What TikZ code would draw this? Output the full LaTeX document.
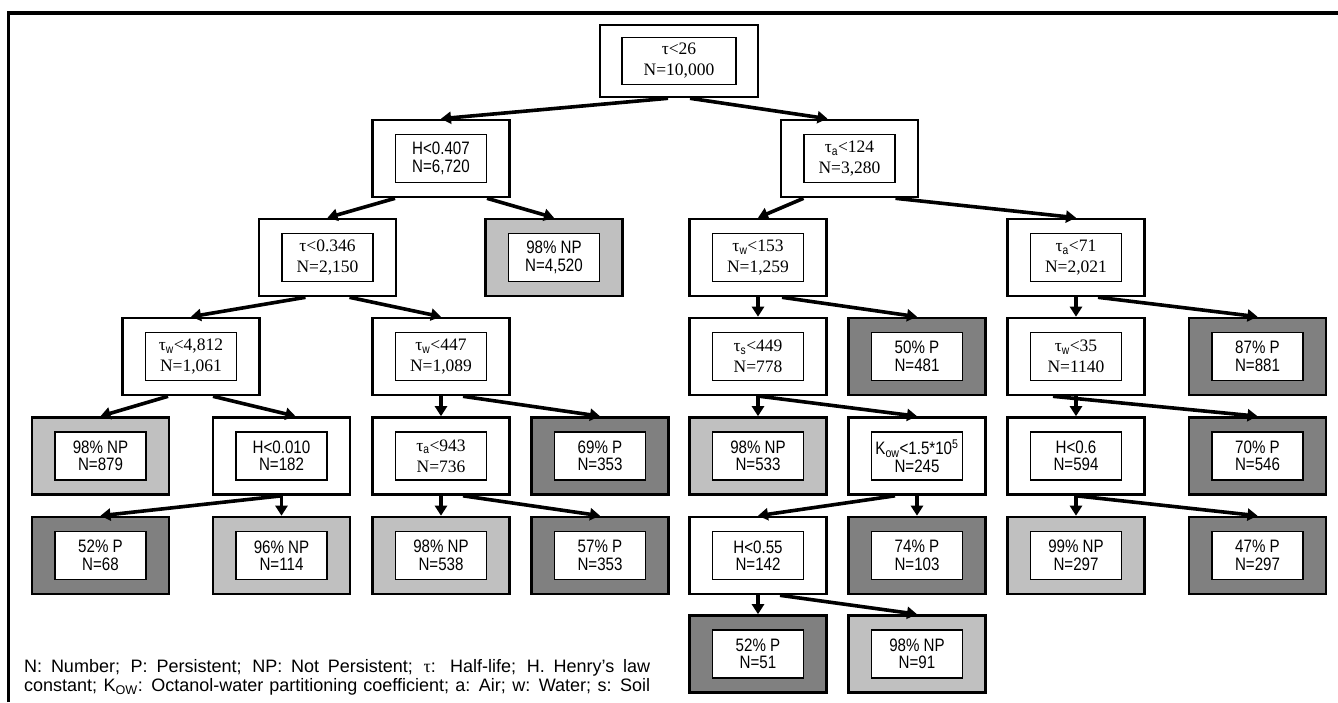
\documentclass[tikz,border=0pt]{standalone}
\usepackage{fontspec}
\setmainfont{Liberation Serif}
\setsansfont{Liberation Sans}
\newfontfamily\boxsans[FakeStretch=0.84]{Liberation Sans}
\usetikzlibrary{arrows.meta,calc}

\definecolor{npgrey}{RGB}{192,192,192}
\definecolor{pgrey}{RGB}{128,128,128}

\newcommand\sbs[1]{\textsubscript{\boxsans #1}}

\tikzset{
  frameline/.style={line width=3.3pt},
  outerbox/.style={draw, line width=2.6pt, minimum width=137pt, minimum height=77pt, inner sep=0pt},
  splitbox/.style={outerbox, fill=white},
  npbox/.style={outerbox, fill=npgrey},
  pbox/.style={outerbox, fill=pgrey},
  textbox/.style={draw, line width=1.3pt, fill=white, minimum width=91pt, minimum height=48pt, inner sep=0pt, align=center},
  serifstyle/.style={font=\fontsize{17.5}{21}\selectfont},
  sansstyle/.style={font=\boxsans\fontsize{18}{17.5}\selectfont},
  arr/.style={line width=3.6pt, -{Triangle[length=10pt,width=12pt]}},
}

% name, position, box style, font style, first line, second line
\newcommand\treebox[6]{%
  \node[#3] (#1) at (#2) {};
  \node[textbox,#4] (#1-t) at (#1) {#5\\#6};
}

\begin{document}
\begin{tikzpicture}[x=1pt,y=-1pt]
\useasboundingbox (0,0) rectangle (1338,702);

% frame
\draw[frameline] (8.5,702) -- (8.5,13) -- (1338,13);

% root
\node[outerbox, fill=white, minimum width=158pt, minimum height=72pt] (root) at (679,61) {};
\node[textbox, serifstyle, minimum width=114pt, minimum height=47pt] (root-t) at (root) {τ<26\\N=10,000};

% level 1
\treebox{a}{441,158.5}{splitbox}{sansstyle}{H<0.407}{N=6,720}
\treebox{b}{849.5,158.5}{splitbox}{serifstyle}{τ\sbs{a}<124}{N=3,280}

% level 2
\treebox{c}{327.5,257.5}{splitbox}{serifstyle}{τ<0.346}{N=2,150}
\treebox{d}{554,257.5}{npbox}{sansstyle}{98\% NP}{N=4,520}
\treebox{e}{758,257.5}{splitbox}{serifstyle}{τ\sbs{w}<153}{N=1,259}
\treebox{f}{1076,257.5}{splitbox}{serifstyle}{τ\sbs{a}<71}{N=2,021}

% level 3
\treebox{g}{191,356.5}{splitbox}{serifstyle}{τ\sbs{w}<4,812}{N=1,061}
\treebox{h}{441,356.5}{splitbox}{serifstyle}{τ\sbs{w}<447}{N=1,089}
\treebox{i}{758,356.5}{splitbox}{serifstyle}{τ\sbs{s}<449}{N=778}
\treebox{j}{917,356.5}{pbox}{sansstyle}{50\% P}{N=481}
\treebox{k}{1076,356.5}{splitbox}{serifstyle}{τ\sbs{w}<35}{N=1140}
\treebox{l}{1257.5,356.5}{pbox}{sansstyle}{87\% P}{N=881}

% level 4
\treebox{m}{100.5,456}{npbox}{sansstyle}{98\% NP}{N=879}
\treebox{n}{281.5,456}{splitbox}{sansstyle}{H<0.010}{N=182}
\treebox{o}{441,456}{splitbox}{serifstyle}{τ\sbs{a}<943}{N=736}
\treebox{p}{600,456}{pbox}{sansstyle}{69\% P}{N=353}
\treebox{q}{758,456}{npbox}{sansstyle}{98\% NP}{N=533}
\treebox{r}{917,456}{splitbox}{sansstyle}{K\textsubscript{ow}<1.5*10\textsuperscript{5}}{N=245}
\treebox{s}{1076,456}{splitbox}{sansstyle}{H<0.6}{N=594}
\treebox{t}{1257.5,456}{pbox}{sansstyle}{70\% P}{N=546}

% level 5
\treebox{u1}{100.5,555.5}{pbox}{sansstyle}{52\% P}{N=68}
\treebox{u2}{281.5,555.5}{npbox}{sansstyle}{96\% NP}{N=114}
\treebox{u3}{441,555.5}{npbox}{sansstyle}{98\% NP}{N=538}
\treebox{u4}{600,555.5}{pbox}{sansstyle}{57\% P}{N=353}
\treebox{u5}{758,555.5}{splitbox}{sansstyle}{H<0.55}{N=142}
\treebox{u6}{917,555.5}{pbox}{sansstyle}{74\% P}{N=103}
\treebox{u7}{1076,555.5}{npbox}{sansstyle}{99\% NP}{N=297}
\treebox{u8}{1257.5,555.5}{pbox}{sansstyle}{47\% P}{N=297}

% level 6
\treebox{v1}{758,654}{pbox}{sansstyle}{52\% P}{N=51}
\treebox{v2}{917,654}{npbox}{sansstyle}{98\% NP}{N=91}

% connectors
\draw[arr] ([xshift=-11pt]root.south) -- (a.north);
\draw[arr] ([xshift=11pt]root.south) -- ([xshift=-22pt]b.north);
\draw[arr] ([xshift=-46pt]a.south) -- (c.north);
\draw[arr] ([xshift=46pt]a.south) -- (d.north);
\draw[arr] ([xshift=-46pt]b.south) -- (e.north);
\draw[arr] ([xshift=46pt]b.south) -- (f.north);
\draw[arr] ([xshift=-22pt]c.south) -- (g.north);
\draw[arr] ([xshift=22pt]c.south) -- (h.north);
\draw[arr] ([xshift=-23pt]g.south) -- (m.north);
\draw[arr] ([xshift=22pt]g.south) -- ([xshift=14pt]n.north);
\draw[arr] (h.south) -- (o.north);
\draw[arr] ([xshift=22pt]h.south) -- (p.north);
\draw[arr] (n.south) -- (u1.north);
\draw[arr] (n.south) -- (u2.north);
\draw[arr] (o.south) -- (u3.north);
\draw[arr] ([xshift=22pt]o.south) -- (u4.north);
\draw[arr] (e.south) -- (i.north);
\draw[arr] ([xshift=24pt]e.south) -- (j.north);
\draw[arr] (i.south) -- (q.north);
\draw[arr] ([xshift=2pt]i.south) -- (r.north);
\draw[arr] ([xshift=-22pt]r.south) -- (u5.north);
\draw[arr] (r.south) -- (u6.north);
\draw[arr] (u5.south) -- (v1.north);
\draw[arr] ([xshift=22pt]u5.south) -- (v2.north);
\draw[arr] (f.south) -- (k.north);
\draw[arr] ([xshift=22pt]f.south) -- (l.north);
\draw[arr] ([xshift=-23pt]k.south) -- (t.north);
\draw[arr] (k.south) -- (s.north);
\draw[arr] (s.south) -- (u7.north);
\draw[arr] (s.south) -- (u8.north);

% legend
\node[anchor=north west, inner sep=0pt, align=left, font=\sffamily\fontsize{18}{19}\selectfont] (legend) at (24,659) {%
\makebox[626pt][s]{N: Number; P: Persistent; NP: Not Persistent; {\rmfamily τ}: Half-life; H. Henry's law}\\
\makebox[626pt][s]{constant; K\textsubscript{OW}: Octanol-water partitioning coefficient; a: Air; w: Water; s: Soil}};
\end{tikzpicture}
\end{document}
